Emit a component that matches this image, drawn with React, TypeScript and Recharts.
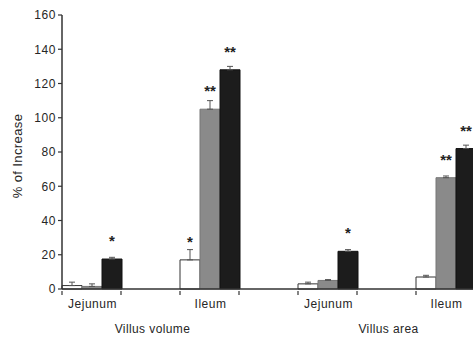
import { BarChart, Bar, XAxis, YAxis, ErrorBar, LabelList, Label } from "recharts";

const categories = ["Jejunum", "", "Ileum", "", "Jejunum", "", "Ileum", ""];
const groupLabels = ["", "Villus volume", "", "", "", "Villus area", "", ""];

const whiteValues = [2, null, 17, null, 3, null, 7, null];
const grayValues = [1.5, null, 105, null, 5, null, 65, null];
const blackValues = [17.5, null, 128, null, 22, null, 82, null];

const whiteErrors = [2, null, 6, null, 1, null, 1, null];
const grayErrors = [1.5, null, 5, null, 0.5, null, 1, null];
const blackErrors = [1, null, 2, null, 1, null, 2, null];

const whiteStars = ["", "", "*", "", "", "", "", ""];
const grayStars = ["", "", "**", "", "", "", "**", ""];
const blackStars = ["*", "", "**", "", "*", "", "**", ""];

const yTicks = [0, 20, 40, 60, 80, 100, 120, 140, 160];

const data = categories.map((name, i) => ({
  name,
  group: groupLabels[i],
  white: whiteValues[i],
  gray: grayValues[i],
  black: blackValues[i],
  whiteErr: whiteErrors[i] == null ? null : [0, whiteErrors[i]],
  grayErr: grayErrors[i] == null ? null : [0, grayErrors[i]],
  blackErr: blackErrors[i] == null ? null : [0, blackErrors[i]],
  whiteStar: whiteStars[i],
  grayStar: grayStars[i],
  blackStar: blackStars[i],
}));

const TEXT = "#262626";
const FONT = "Liberation Sans, Arial, sans-serif";
const HALF_SLOT = 29.5;

function CategoryTick(props: any) {
  const { x, y, payload, index } = props;
  const name = payload.value as string;
  const group = groupLabels[index] || "";
  return (
    <g>
      {name && (
        <>
          <line x1={x - HALF_SLOT} x2={x - HALF_SLOT} y1={y} y2={y + 4} stroke="#333" strokeWidth={1.2} />
          <line x1={x + HALF_SLOT} x2={x + HALF_SLOT} y1={y} y2={y + 4} stroke="#333" strokeWidth={1.2} />
          <text x={x + 1} y={y + 17} textAnchor="middle" fill={TEXT} fontSize={12} fontFamily={FONT} letterSpacing={0.5}>
            {name}
          </text>
        </>
      )}
      {group && (
        <text x={x + 2} y={y + 42} textAnchor="middle" fill={TEXT} fontSize={12} fontFamily={FONT} letterSpacing={0.4}>
          {group}
        </text>
      )}
    </g>
  );
}

const starStyle = { fill: "#222", fontSize: 15, fontWeight: 700, fontFamily: FONT };

export default function App() {
  return (
    <div style={{ position: "absolute", left: 0, top: 0, width: 473, height: 338, overflow: "hidden", background: "#fff" }}>
      <BarChart
        width={540}
        height={338}
        data={data}
        margin={{ top: 15, right: 6, bottom: 0, left: 0 }}
        barCategoryGap={0}
        barGap={0}
      >
        <XAxis
          dataKey="name"
          height={49}
          tickLine={false}
          tickSize={0}
          axisLine={{ stroke: "#333", strokeWidth: 1.5 }}
          interval={0}
          tick={<CategoryTick />}
        />
        <YAxis
          width={62}
          domain={[0, 160]}
          ticks={yTicks}
          tickSize={4}
          tickLine={{ stroke: "#333", strokeWidth: 1.2 }}
          axisLine={{ stroke: "#333", strokeWidth: 1.5 }}
          tick={{ fill: TEXT, fontSize: 12, fontFamily: FONT, letterSpacing: 0.6 }}
          interval={0}
        >
          <Label
            value="% of Increase"
            angle={-90}
            position="insideLeft"
            offset={17}
            dy={4}
            style={{ textAnchor: "middle", fill: TEXT, fontSize: 13, fontFamily: FONT, letterSpacing: 0.4 }}
          />
        </YAxis>
        <Bar dataKey="white" fill="#ffffff" stroke="#333" strokeWidth={1} isAnimationActive={false}>
          <ErrorBar dataKey="whiteErr" width={3} stroke="#555" strokeWidth={1} direction="y" />
          <LabelList dataKey="whiteStar" position="top" offset={13} style={starStyle} />
        </Bar>
        <Bar dataKey="gray" fill="#8a8a8a" stroke="#777" strokeWidth={1} isAnimationActive={false}>
          <ErrorBar dataKey="grayErr" width={3} stroke="#555" strokeWidth={1} direction="y" />
          <LabelList dataKey="grayStar" position="top" offset={13} style={starStyle} />
        </Bar>
        <Bar dataKey="black" fill="#1c1c1c" stroke="#111" strokeWidth={1} isAnimationActive={false}>
          <ErrorBar dataKey="blackErr" width={3} stroke="#555" strokeWidth={1} direction="y" />
          <LabelList dataKey="blackStar" position="top" offset={13} style={starStyle} />
        </Bar>
      </BarChart>
    </div>
  );
}
